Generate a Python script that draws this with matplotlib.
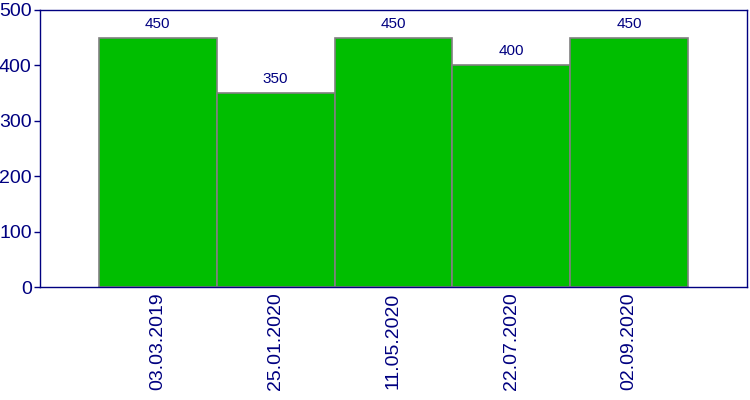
import numpy as np
import matplotlib.pyplot as plt

plt.rcParams['font.family'] = ['Liberation Sans', 'DejaVu Sans']

dates = ["03.03.2019", "25.01.2020", "11.05.2020", "22.07.2020", "02.09.2020"]
values = [450, 350, 450, 400, 450]

navy = "#000080"

fig = plt.figure(figsize=(7.5, 4), dpi=100)
ax = fig.add_axes([0.0533, 0.2825, 0.9427, 0.6925])

x = np.arange(len(dates))
bars = ax.bar(x, values, width=1.0, color="#00be00", edgecolor="#808080", linewidth=1.2)

for xi, v in zip(x, values):
    ax.annotate(str(v), (xi, v), xytext=(0, 5), textcoords="offset points",
                ha="center", va="bottom", fontsize=11, color=navy)

ax.set_xlim(-1, len(dates))
ax.set_ylim(0, 500)
ax.set_yticks([0, 100, 200, 300, 400, 500])
ax.set_xticks(x)
ax.set_xticklabels(dates, rotation=90)

ax.tick_params(axis="y", colors=navy, labelsize=14, length=4, width=1, pad=2)
ax.tick_params(axis="x", colors=navy, labelsize=14, length=0, pad=4)
for s in ax.spines.values():
    s.set_color(navy)
    s.set_linewidth(1)

fig.savefig("out.png", dpi=100)
